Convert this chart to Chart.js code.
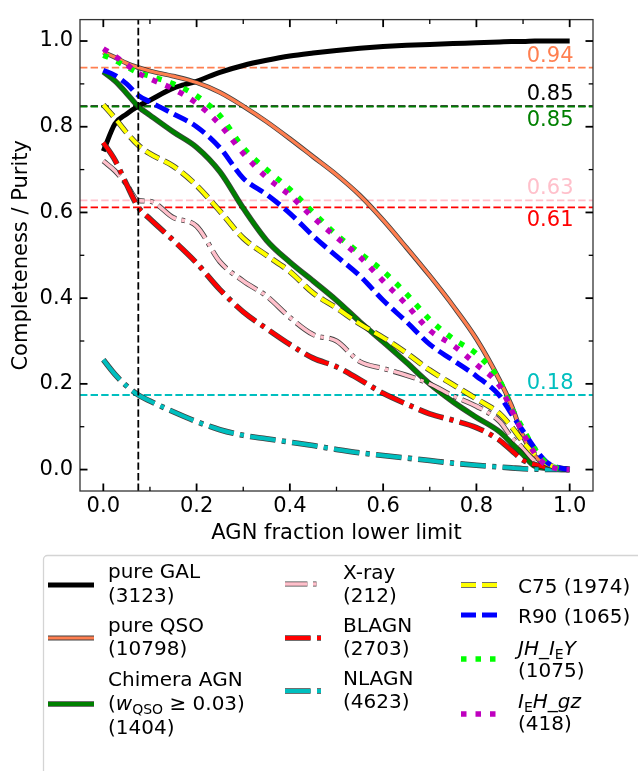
<!DOCTYPE html>
<html>
<head>
<meta charset="utf-8">
<script src="https://cdn.jsdelivr.net/npm/chart.js@4.4.0/dist/chart.umd.min.js"></script>
<style>html,body{margin:0;padding:0;background:#fff}canvas{display:block}</style>
</head>
<body>
<canvas id="c" width="638" height="771"></canvas>
<script>
// ---------------- DATA ----------------
const agnFractionLimits = [0, 0.025, 0.05, 0.075, 0.1, 0.15, 0.2, 0.25, 0.3, 0.35, 0.4, 0.45, 0.5, 0.55, 0.6, 0.65, 0.7, 0.75, 0.8, 0.85, 0.875, 0.9, 0.925, 0.95, 0.975, 1.0];
const pureGAL    = [0.743, 0.807, 0.830, 0.848, 0.862, 0.890, 0.906, 0.927, 0.943, 0.955, 0.965, 0.972, 0.978, 0.983, 0.987, 0.990, 0.992, 0.994, 0.996, 0.998, 0.999, 0.999, 1.000, 1.000, 1.000, 1.000];
const pureQSO    = [0.974, 0.962, 0.948, 0.938, 0.930, 0.918, 0.903, 0.880, 0.848, 0.812, 0.772, 0.730, 0.688, 0.640, 0.582, 0.518, 0.452, 0.382, 0.305, 0.208, 0.150, 0.078, 0.032, 0.010, 0.003, 0.000];
const chimeraAGN = [0.928, 0.907, 0.878, 0.847, 0.827, 0.788, 0.752, 0.695, 0.610, 0.535, 0.484, 0.440, 0.395, 0.345, 0.298, 0.250, 0.200, 0.158, 0.122, 0.088, 0.062, 0.035, 0.008, 0.003, 0.001, 0.000];
const xray       = [0.720, 0.697, 0.665, 0.628, 0.626, 0.588, 0.568, 0.485, 0.440, 0.405, 0.355, 0.315, 0.300, 0.252, 0.236, 0.220, 0.200, 0.172, 0.148, 0.112, 0.076, 0.050, 0.020, 0.008, 0.002, 0.000];
const blagn      = [0.763, 0.722, 0.665, 0.612, 0.585, 0.535, 0.482, 0.420, 0.368, 0.329, 0.292, 0.260, 0.240, 0.210, 0.178, 0.153, 0.130, 0.115, 0.098, 0.068, 0.045, 0.022, 0.012, 0.005, 0.002, 0.000];
const nlagn      = [0.256, 0.222, 0.195, 0.174, 0.160, 0.135, 0.112, 0.093, 0.080, 0.072, 0.064, 0.056, 0.047, 0.039, 0.033, 0.027, 0.021, 0.015, 0.010, 0.006, 0.004, 0.002, 0.001, 0.000, 0.000, 0.000];
const c75        = [0.851, 0.820, 0.786, 0.757, 0.737, 0.708, 0.663, 0.603, 0.540, 0.500, 0.462, 0.412, 0.377, 0.340, 0.308, 0.272, 0.232, 0.198, 0.165, 0.130, 0.100, 0.065, 0.035, 0.014, 0.004, 0.000];
const r90        = [0.932, 0.920, 0.900, 0.873, 0.858, 0.830, 0.800, 0.751, 0.680, 0.642, 0.598, 0.545, 0.498, 0.452, 0.395, 0.345, 0.292, 0.255, 0.218, 0.172, 0.130, 0.090, 0.050, 0.018, 0.005, 0.000];
const jhIEY      = [0.967, 0.955, 0.940, 0.926, 0.918, 0.900, 0.872, 0.826, 0.751, 0.700, 0.654, 0.600, 0.548, 0.505, 0.463, 0.410, 0.350, 0.305, 0.270, 0.207, 0.145, 0.095, 0.048, 0.015, 0.003, 0.000];
const ieHgz      = [0.982, 0.965, 0.945, 0.925, 0.912, 0.888, 0.855, 0.805, 0.738, 0.682, 0.640, 0.588, 0.542, 0.496, 0.440, 0.385, 0.325, 0.290, 0.245, 0.195, 0.140, 0.085, 0.038, 0.010, 0.002, 0.000];

const xTickValues = [0.0, 0.2, 0.4, 0.6, 0.8, 1.0];
const yTickValues = [0.0, 0.2, 0.4, 0.6, 0.8, 1.0];
const minorTickValues = [0.1, 0.3, 0.5, 0.7, 0.9];
const axisRange = [-0.05, 1.05];

const cutFraction = 0.075;
const refSeries = ['pure GAL', 'pure QSO', 'Chimera AGN', 'X-ray', 'BLAGN', 'NLAGN'];
const refLevels = [0.848, 0.938, 0.847, 0.628, 0.612, 0.174];
const refLabels = ['0.85', '0.94', '0.85', '0.63', '0.61', '0.18'];
const refLabelAbove = [true, true, false, true, false, true];

// ---------------- STYLES ----------------
const FONT = 'DejaVu Sans';
const series = [
  {name:'pure GAL',    y:pureGAL,    color:'#000000', width:5,   dash:[],                  outline:false},
  {name:'pure QSO',    y:pureQSO,    color:'#FF7F50', width:3.2, dash:[],                  outline:true},
  {name:'Chimera AGN', y:chimeraAGN, color:'#008000', width:4,   dash:[],                  outline:true},
  {name:'X-ray',       y:xray,       color:'#FFC0CB', width:3.5, dash:[22.4,5.6,3.5,5.6],  outline:true},
  {name:'BLAGN',       y:blagn,      color:'#FF0000', width:4,   dash:[25.6,6.4,4,6.4],    outline:true},
  {name:'NLAGN',       y:nlagn,      color:'#00BFBF', width:4,   dash:[25.6,6.4,4,6.4],    outline:true},
  {name:'C75',         y:c75,        color:'#FFFF00', width:4,   dash:[15,6],              outline:true},
  {name:'R90',         y:r90,        color:'#0000FF', width:5,   dash:[15,6],              outline:false},
  {name:'JH_IEY',      y:jhIEY,      color:'#00FF00', width:5.5, dash:[5.5,9],             outline:false},
  {name:'IEH_gz',      y:ieHgz,      color:'#BF00BF', width:5.5, dash:[5.5,9],             outline:false}
];
const refColors = ['#000000', '#FF7F50', '#008000', '#FFC0CB', '#FF0000', '#00BFBF'];
const OUTLINE = 'rgba(30,30,30,0.85)';

// ---------------- DATASETS ----------------
const datasets = [];
refLevels.forEach((v, i) => {
  datasets.push({
    label: 'ref ' + refSeries[i],
    data: [{x: axisRange[0], y: v}, {x: axisRange[1], y: v}],
    borderColor: refColors[i], borderWidth: 1.8, borderDash: [7.4, 3.2],
    pointRadius: 0, fill: false, order: 1000 - i
  });
});
series.forEach((s, i) => {
  const pts = agnFractionLimits.map((x, k) => ({x: x, y: s.y[k]}));
  if (s.outline) {
    datasets.push({
      label: s.name + ' outline', data: pts,
      borderColor: OUTLINE, borderWidth: s.width + 1.6, borderDash: s.dash,
      pointRadius: 0, fill: false, cubicInterpolationMode: 'monotone',
      borderJoinStyle: 'round', order: 100 - 2 * i + 1
    });
  }
  datasets.push({
    label: s.name, data: pts,
    borderColor: s.color, borderWidth: s.width, borderDash: s.dash,
    pointRadius: 0, fill: false, cubicInterpolationMode: 'monotone',
    borderJoinStyle: 'round', order: 100 - 2 * i
  });
});
datasets.push({
  label: 'cut', data: [{x: cutFraction, y: axisRange[0]}, {x: cutFraction, y: axisRange[1]}],
  borderColor: '#000000', borderWidth: 1.8, borderDash: [7.4, 3.2],
  pointRadius: 0, fill: false, order: -10
});

// ---------------- LEGEND LAYOUT ----------------
const legendCols = [{hx0:48, hx1:94, tx:108}, {hx0:285, hx1:322, tx:343}, {hx0:461, hx1:497, tx:518}];
const legendEntries = [
  {s:0, col:0, hy:585, lines:[[571, [['pure GAL','n']]], [595, [['(3123)','n']]]]},
  {s:1, col:0, hy:638, lines:[[625, [['pure QSO','n']]], [648, [['(10798)','n']]]]},
  {s:2, col:0, hy:704, lines:[[679, [['Chimera AGN','n']]], [703, [['(','n'],['w','i'],['QSO','s'],[' \u2265 0.03)','n']]], [727, [['(1404)','n']]]]},
  {s:3, col:1, hy:584, lines:[[572, [['X-ray','n']]], [595, [['(212)','n']]]]},
  {s:4, col:1, hy:638, lines:[[624.5, [['BLAGN','n']]], [648, [['(2703)','n']]]]},
  {s:5, col:1, hy:691, lines:[[677.5, [['NLAGN','n']]], [701, [['(4623)','n']]]]},
  {s:6, col:2, hy:585, lines:[[586, [['C75 (1974)','n']]]]},
  {s:7, col:2, hy:615, lines:[[616, [['R90 (1065)','n']]]]},
  {s:8, col:2, hy:659, lines:[[648, [['JH_I','i'],['E','s'],['Y','i']]], [670, [['(1075)','n']]]]},
  {s:9, col:2, hy:714, lines:[[701, [['I','i'],['E','s'],['H_gz','i']]], [723, [['(418)','n']]]]}
];

function drawRich(ctx, x, cy, segs, size) {
  const base = cy + 0.365 * size;
  ctx.textAlign = 'left';
  ctx.textBaseline = 'alphabetic';
  ctx.fillStyle = '#000';
  segs.forEach(([t, st]) => {
    let f, yb = base;
    if (st === 'i') f = 'italic ' + size + 'px "' + FONT + '"';
    else if (st === 's') { f = Math.round(size * 0.68) + 'px "' + FONT + '"'; yb = base + 0.2 * size; }
    else f = size + 'px "' + FONT + '"';
    ctx.font = f;
    ctx.fillText(t, x, yb);
    x += ctx.measureText(t).width;
  });
}

const decorPlugin = {
  id: 'decor',
  afterDatasetsDraw(chart) {
    const ctx = chart.ctx, ys = chart.scales.y;
    ctx.save();
    ctx.font = '21px "' + FONT + '"';
    ctx.textAlign = 'right';
    ctx.textBaseline = 'middle';
    refLevels.forEach((v, i) => {
      const py = ys.getPixelForValue(v) + (refLabelAbove[i] ? -11.5 : 13.5);
      ctx.fillStyle = refColors[i];
      ctx.fillText(refLabels[i], 573.5, py);
    });
    ctx.restore();
  },
  afterDraw(chart) {
    const ctx = chart.ctx, xs = chart.scales.x, ys = chart.scales.y;
    const {left, right, top, bottom} = chart.chartArea;
    ctx.save();
    // spines
    ctx.strokeStyle = '#333';
    ctx.lineWidth = 1.3;
    ctx.setLineDash([]);
    ctx.strokeRect(left, top, right - left, bottom - top);
    // ticks
    ctx.strokeStyle = '#000';
    const tick = (x1, y1, x2, y2) => { ctx.beginPath(); ctx.moveTo(x1, y1); ctx.lineTo(x2, y2); ctx.stroke(); };
    ctx.lineWidth = 1.8;
    xTickValues.forEach(v => { const p = xs.getPixelForValue(v); tick(p, bottom, p, bottom - 7.5); tick(p, top, p, top + 7.5); });
    yTickValues.forEach(v => { const p = ys.getPixelForValue(v); tick(left, p, left + 7.5, p); tick(right, p, right - 7.5, p); });
    ctx.lineWidth = 1.3;
    minorTickValues.forEach(v => { const p = xs.getPixelForValue(v); tick(p, bottom, p, bottom - 4.3); tick(p, top, p, top + 4.3); });
    minorTickValues.forEach(v => { const p = ys.getPixelForValue(v); tick(left, p, left + 4.3, p); tick(right, p, right - 4.3, p); });
    // legend frame
    ctx.strokeStyle = '#d4d4d4';
    ctx.lineWidth = 1.3;
    ctx.beginPath();
    if (ctx.roundRect) ctx.roundRect(43.5, 555.5, 700, 300, 4); else ctx.rect(43.5, 555.5, 700, 300);
    ctx.stroke();
    // legend handles and texts
    legendEntries.forEach(e => {
      const s = series[e.s], c = legendCols[e.col];
      ctx.lineCap = 'butt';
      if (s.outline) {
        ctx.strokeStyle = OUTLINE; ctx.lineWidth = s.width + 1.6; ctx.setLineDash(s.dash);
        tick(c.hx0, e.hy, c.hx1, e.hy);
      }
      ctx.strokeStyle = s.color; ctx.lineWidth = s.width; ctx.setLineDash(s.dash);
      tick(c.hx0, e.hy, c.hx1, e.hy);
      ctx.setLineDash([]);
      e.lines.forEach(([cy, segs]) => drawRich(ctx, c.tx, cy, segs, 20));
    });
    ctx.restore();
  }
};

new Chart(document.getElementById('c'), {
  type: 'line',
  data: {datasets: datasets},
  plugins: [decorPlugin],
  options: {
    responsive: false,
    animation: false,
    devicePixelRatio: 1,
    layout: {padding: {top: 14, right: 45, left: 0, bottom: 0}},
    plugins: {legend: {display: false}, tooltip: {enabled: false}},
    scales: {
      x: {
        type: 'linear', min: axisRange[0], max: axisRange[1],
        afterBuildTicks: s => { s.ticks = xTickValues.map(v => ({value: v})); },
        afterFit: s => { s.height = 280; },
        grid: {display: false, drawTicks: false},
        border: {display: false},
        ticks: {padding: 3, color: '#000', font: {family: FONT, size: 21}, maxRotation: 0, autoSkip: false,
                callback: v => Number(v).toFixed(1)},
        title: {display: true, text: 'AGN fraction lower limit', color: '#000',
                font: {family: FONT, size: 21}, padding: {top: 0, bottom: 225}}
      },
      y: {
        type: 'linear', min: axisRange[0], max: axisRange[1],
        afterBuildTicks: s => { s.ticks = yTickValues.map(v => ({value: v})); },
        afterFit: s => { s.width = 80; },
        grid: {display: false, drawTicks: false},
        border: {display: false},
        ticks: {padding: 7, color: '#000', font: {family: FONT, size: 21}, autoSkip: false,
                callback: v => Number(v).toFixed(1)},
        title: {display: true, text: 'Completeness / Purity', color: '#000',
                font: {family: FONT, size: 21}, padding: {top: 9, bottom: 0}}
      }
    }
  }
});
</script>
</body>
</html>
